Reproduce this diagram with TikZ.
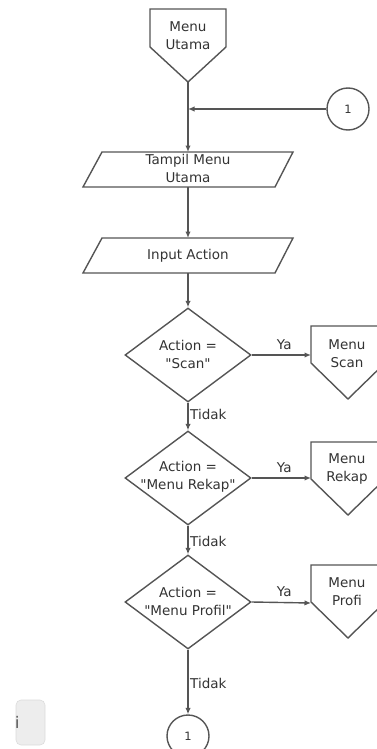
\documentclass[tikz,border=0pt]{standalone}
\usepackage{fontspec}
\setmainfont{DejaVu Sans}[Ligatures=TeXOff]
\usetikzlibrary{arrows.meta,shapes.geometric}
\definecolor{linec}{HTML}{555555}
\definecolor{textc}{HTML}{333333}
\tikzset{
  flow/.style={draw=linec, line width=1.4pt},
  arr/.style={flow, -{Latex[length=6.5pt,width=5.5pt]}},
  lbl/.style={text=textc, font=\fontsize{13.5}{18}\selectfont, align=center, inner sep=0pt},
  decbox/.style={shape=diamond, draw=linec, line width=1.4pt, minimum width=126pt, minimum height=94pt, inner sep=0pt},
  conn/.style={shape=circle, draw=linec, line width=1.4pt, minimum size=42pt, inner sep=0pt, text=textc, font=\fontsize{11.5}{13}\selectfont},
}
\begin{document}
\begin{tikzpicture}[x=1pt, y=-1pt]
\useasboundingbox (0,0) rectangle (376,749);

% --- start: off-page connector "Menu Utama"
\draw[flow] (150,9) -- (226,9) -- (226,47) -- (188,82) -- (150,47) -- cycle;
\coordinate (mu-tip) at (188,82);
\node[lbl] (mu) at (188,36) {Menu\\Utama};

% --- on-page connector coming back into the loop
\node[conn] (c1) at (348,109) {1};
\coordinate (join) at (188,109);

% --- display main menu
\draw[flow] (102,152) -- (293,152) -- (275,187) -- (83,187) -- cycle;
\coordinate (tm-top) at (188,152);
\coordinate (tm-bot) at (188,187);
\node[lbl] (tm) at (188,168) {Tampil Menu\\Utama};

% --- input action
\draw[flow] (102,238) -- (293,238) -- (275,273) -- (83,273) -- cycle;
\coordinate (ia-top) at (188,238);
\coordinate (ia-bot) at (188,273);
\node[lbl] (ia) at (188,255.5) {Input Action};

% --- decisions
\node[decbox] (d1) at (188,355) {};
\node[lbl] at (188,354) {Action =\\"Scan"};
\node[decbox] (d2) at (188,478) {};
\node[lbl] at (188,477) {Action =\\"Menu Rekap"};
\node[decbox] (d3) at (188,602) {};
\node[lbl] at (188,601) {Action =\\"Menu Profil"};

% --- off-page targets
\draw[flow] (311,326) -- (385,326) -- (385,363) -- (348,399) -- (311,363) -- cycle;
\coordinate (ms) at (311,355);
\node[lbl] (mst) at (347,353.5) {Menu\\Scan};
\draw[flow] (311,442) -- (385,442) -- (385,479) -- (348,515) -- (311,479) -- cycle;
\coordinate (mr) at (311,478);
\node[lbl] (mrt) at (347,469) {Menu\\Rekap};
\draw[flow] (311,565) -- (385,565) -- (385,602) -- (348,638) -- (311,602) -- cycle;
\coordinate (mp) at (311,603);
\node[lbl] (mpt) at (347,592) {Menu\\Profi};

% --- end connector
\node[conn] (c2) at (188,736) {1};

% --- connectors
\draw[arr] (mu-tip) -- (tm-top);
\draw[arr] (c1.west) -- (join);
\draw[arr] (tm-bot) -- (ia-top);
\draw[arr] (ia-bot) -- (d1.north);

\draw[arr] (d1.east) -- node[lbl, above=5pt, pos=0.55] {Ya} (ms);
\draw[arr] (d2.east) -- node[lbl, above=5pt, pos=0.55] {Ya} (mr);
\draw[arr] (d3.east) -- node[lbl, above=5pt, pos=0.55] {Ya} (mp);

\draw[arr] (d1.south) -- (d2.north);
\draw[arr] (d2.south) -- (d3.north);
\draw[arr] (d3.south) -- (c2.north);
\node[lbl, anchor=west] (t1) at (190,414) {Tidak};
\node[lbl, anchor=west] (t2) at (190,541) {Tidak};
\node[lbl, anchor=west] (t3) at (190,683) {Tidak};

% --- small info tab at the lower left
\begin{scope}
  \clip[rounded corners=5pt] (16,700) rectangle (45,745);
  \fill[fill=black!7, rounded corners=5pt] (16,700) rectangle (45,745);
  \node[text=textc, font=\fontsize{16}{18}\selectfont, inner sep=0pt] (info) at (17,722) {i};
\end{scope}
\draw[black!14, line width=0.6pt, rounded corners=5pt] (16,700) rectangle (45,745);
\end{tikzpicture}
\end{document}
